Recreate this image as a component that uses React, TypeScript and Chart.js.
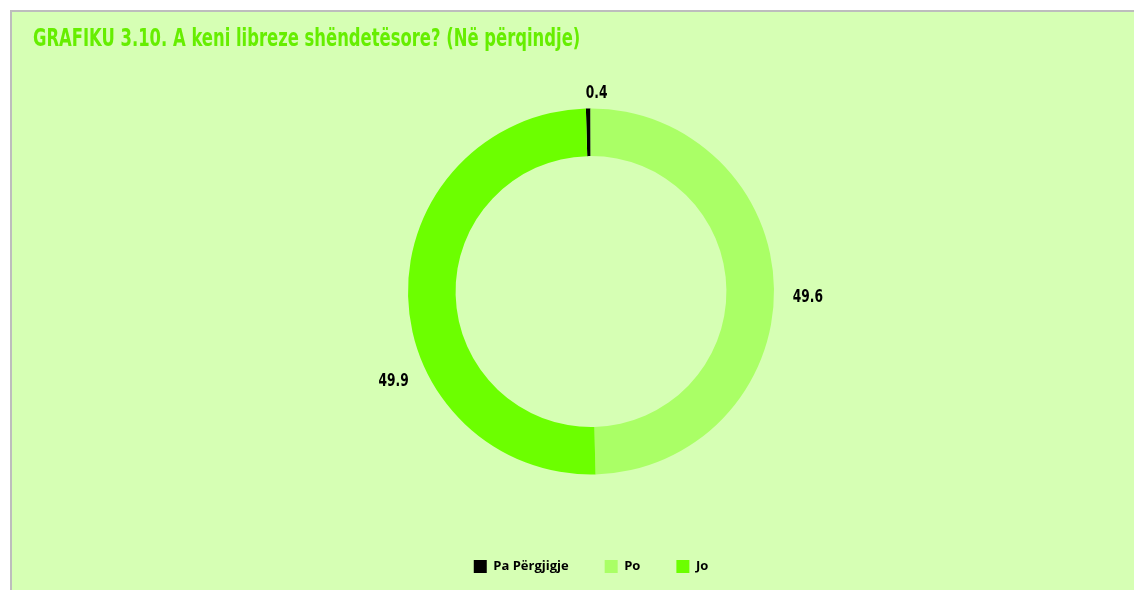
import React, { useEffect, useRef } from "react";
import { Chart, registerables } from "chart.js";

Chart.register(...registerables);

// Survey answers, percent
const categories = ["Pa Përgjigje", "Po", "Jo"];
const shares = [0.4, 49.6, 49.9];
const sliceColors = ["#000000", "#aaff66", "#6cff00"];

const titleText = "GRAFIKU 3.10. A keni libreze shëndetësore? (Në përqindje)";

// Angle nudges (degrees, clockwise) and extra distance for the value labels
const labelNudgeDeg = [2.5, 2.5, -23];
const labelGap = [15, 34, 34];

const valueLabels = {
  id: "valueLabels",
  afterDatasetsDraw(chart: any) {
    const meta = chart.getDatasetMeta(0);
    const ctx = chart.ctx;
    const squeeze = 0.8;
    ctx.save();
    ctx.font = "bold 17px 'DejaVu Sans Condensed', 'DejaVu Sans', sans-serif";
    ctx.fillStyle = "#000000";
    ctx.textAlign = "center";
    ctx.textBaseline = "middle";
    meta.data.forEach((arc: any, i: number) => {
      const p = arc.getProps(["x", "y", "startAngle", "endAngle", "outerRadius"], true);
      const mid = (p.startAngle + p.endAngle) / 2 + (labelNudgeDeg[i] * Math.PI) / 180;
      const r = p.outerRadius + labelGap[i];
      const x = p.x + Math.cos(mid) * r;
      const y = p.y + Math.sin(mid) * r;
      ctx.save();
      ctx.translate(x, y);
      ctx.scale(squeeze, 1);
      ctx.fillText(shares[i].toFixed(1), 0, 0);
      ctx.restore();
    });
    ctx.restore();
  },
};

export default function App() {
  const canvasRef = useRef<HTMLCanvasElement | null>(null);

  useEffect(() => {
    if (!canvasRef.current) return;
    const chart = new Chart(canvasRef.current, {
      type: "doughnut",
      data: {
        labels: categories,
        datasets: [
          {
            data: shares,
            backgroundColor: sliceColors,
            borderWidth: 0,
            hoverOffset: 0,
          },
        ],
      },
      options: {
        animation: false,
        responsive: false,
        devicePixelRatio: 1,
        radius: 183,
        cutout: "74%",
        rotation: -1.6,
        layout: { padding: { left: 36, top: 47, bottom: 7, right: 0 } },
        plugins: {
          tooltip: { enabled: false },
          legend: {
            position: "bottom",
            labels: {
              boxWidth: 13,
              boxHeight: 13,
              padding: 36,
              color: "#000000",
              font: { family: "'Open Sans', sans-serif", weight: "bold", size: 13 },
            },
          },
        },
      },
      plugins: [valueLabels],
    });
    return () => chart.destroy();
  }, []);

  return (
    <div
      style={{
        position: "absolute",
        left: 10,
        top: 10,
        width: 1124,
        height: 580,
        boxSizing: "border-box",
        borderTop: "2px solid #bdbdbd",
        borderLeft: "2px solid #bdbdbd",
        background: "#d6ffb4",
        overflow: "hidden",
      }}
    >
      <div
        style={{
          position: "absolute",
          left: 21,
          top: 11,
          fontFamily: "'DejaVu Sans Condensed', 'DejaVu Sans', sans-serif",
          fontWeight: "bold",
          fontSize: 24,
          color: "#66ee00",
          whiteSpace: "nowrap",
          lineHeight: "30px",
          transform: "scaleX(0.76)",
          transformOrigin: "left top",
        }}
      >
        {titleText}
      </div>
      <canvas ref={canvasRef} width={1122} height={578} style={{ display: "block" }} />
    </div>
  );
}
